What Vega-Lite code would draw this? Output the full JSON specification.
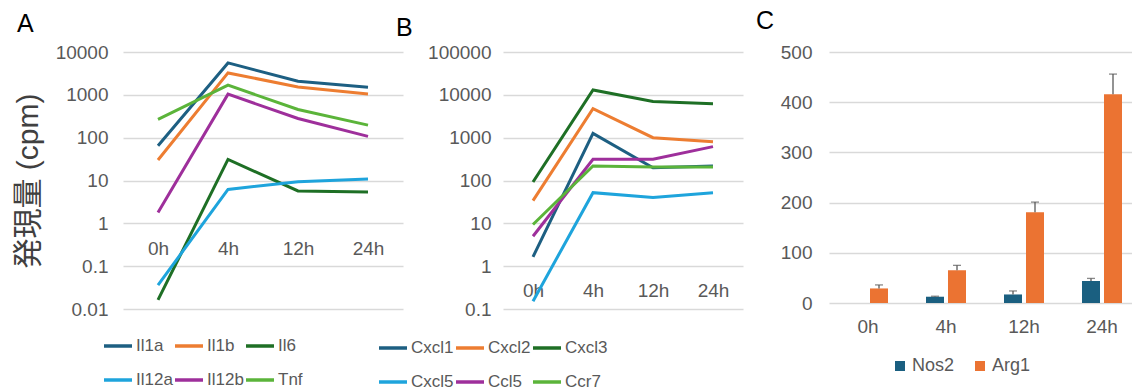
{
  "$schema": "https://vega.github.io/schema/vega-lite/v6.json",
  "autosize": {"type": "pad"},
  "padding": {"left": 12, "top": 9, "right": 0, "bottom": 0},
  "background": "white",
  "config": {
    "view": {"stroke": null},
    "font": "Liberation Sans",
    "axis": {
      "domain": false, "ticks": false, "labelColor": "#595959", "labelFont": "Liberation Sans",
      "labelFontSize": 19, "gridColor": "#d9d9d9", "gridWidth": 1.5
    },
    "legend": {"labelFont": "Liberation Sans", "labelFontSize": 17, "labelColor": "#595959"},
    "title": {"font": "Liberation Sans", "fontSize": 25, "fontWeight": "normal", "color": "#000000", "anchor": "start", "frame": "group"}
  },
  "resolve": {"scale": {"color": "independent", "y": "independent", "x": "independent"}, "legend": {"color": "independent"}},
  "bounds": "flush",
  "spacing": 86,
  "hconcat": [
    {
      "width": 294, "height": 257,
      "title": {"text": "A", "dx": -106, "offset": 6},
      "data": {"values": [
        {"gene": "Il1a", "time": "0h", "value": 65}, {"gene": "Il1a", "time": "4h", "value": 5560}, {"gene": "Il1a", "time": "12h", "value": 2080}, {"gene": "Il1a", "time": "24h", "value": 1500},
        {"gene": "Il1b", "time": "0h", "value": 30}, {"gene": "Il1b", "time": "4h", "value": 3250}, {"gene": "Il1b", "time": "12h", "value": 1530}, {"gene": "Il1b", "time": "24h", "value": 1040},
        {"gene": "Il6", "time": "0h", "value": 0.0163}, {"gene": "Il6", "time": "4h", "value": 31}, {"gene": "Il6", "time": "12h", "value": 5.7}, {"gene": "Il6", "time": "24h", "value": 5.4},
        {"gene": "Il12a", "time": "0h", "value": 0.036}, {"gene": "Il12a", "time": "4h", "value": 6.2}, {"gene": "Il12a", "time": "12h", "value": 9.4}, {"gene": "Il12a", "time": "24h", "value": 10.8},
        {"gene": "Il12b", "time": "0h", "value": 1.8}, {"gene": "Il12b", "time": "4h", "value": 1035}, {"gene": "Il12b", "time": "12h", "value": 280}, {"gene": "Il12b", "time": "24h", "value": 107},
        {"gene": "Tnf", "time": "0h", "value": 266}, {"gene": "Tnf", "time": "4h", "value": 1680}, {"gene": "Tnf", "time": "12h", "value": 454}, {"gene": "Tnf", "time": "24h", "value": 196}
      ]},
      "mark": {"type": "line", "strokeWidth": 3},
      "encoding": {
        "x": {"field": "time", "type": "ordinal", "sort": ["0h", "4h", "12h", "24h"], "scale": {"type": "point", "padding": 0.5, "range": [0, 280]},
              "axis": {"title": null, "labelAngle": 0, "grid": false, "offset": -86, "labelPadding": 16}},
        "y": {"field": "value", "type": "quantitative", "scale": {"type": "log", "domain": [0.01, 10000], "nice": false},
              "axis": {"title": "発現量 (cpm)", "titleFont": "Liberation Sans, Noto Sans CJK JP", "titleFontSize": 30, "titleFontWeight": "normal", "titleColor": "#404040",
                       "titleX": -95, "titleBaseline": "middle", "values": [0.01, 0.1, 1, 10, 100, 1000, 10000], "format": "~g", "labelPadding": 15}},
        "color": {"field": "gene", "type": "nominal", "sort": ["Il1a", "Il1b", "Il6", "Il12a", "Il12b", "Tnf"],
                  "scale": {"domain": ["Il1a", "Il1b", "Il6", "Il12a", "Il12b", "Tnf"], "range": ["#1d5f82", "#ed7d31", "#1e6f25", "#1ea4dc", "#9e2f9b", "#5bb43a"]},
                  "legend": {"title": null, "orient": "none", "direction": "horizontal", "legendX": -21, "legendY": 278, "columns": 3, "symbolType": "stroke", "symbolSize": 784, "symbolStrokeWidth": 3.5, "labelOffset": 2, "columnPadding": -8, "rowPadding": 10}}
      }
    },
    {
      "width": 240, "height": 257,
      "title": {"text": "B", "dx": -107, "offset": 2},
      "data": {"values": [
        {"gene": "Cxcl1", "time": "0h", "value": 1.65}, {"gene": "Cxcl1", "time": "4h", "value": 1260}, {"gene": "Cxcl1", "time": "12h", "value": 198}, {"gene": "Cxcl1", "time": "24h", "value": 218},
        {"gene": "Cxcl2", "time": "0h", "value": 34}, {"gene": "Cxcl2", "time": "4h", "value": 4780}, {"gene": "Cxcl2", "time": "12h", "value": 1000}, {"gene": "Cxcl2", "time": "24h", "value": 807},
        {"gene": "Cxcl3", "time": "0h", "value": 92}, {"gene": "Cxcl3", "time": "4h", "value": 13000}, {"gene": "Cxcl3", "time": "12h", "value": 6960}, {"gene": "Cxcl3", "time": "24h", "value": 6160},
        {"gene": "Cxcl5", "time": "0h", "value": 0.152}, {"gene": "Cxcl5", "time": "4h", "value": 52}, {"gene": "Cxcl5", "time": "12h", "value": 40}, {"gene": "Cxcl5", "time": "24h", "value": 52},
        {"gene": "Ccl5", "time": "0h", "value": 5.0}, {"gene": "Ccl5", "time": "4h", "value": 312}, {"gene": "Ccl5", "time": "12h", "value": 312}, {"gene": "Ccl5", "time": "24h", "value": 617},
        {"gene": "Ccr7", "time": "0h", "value": 9.4}, {"gene": "Ccr7", "time": "4h", "value": 218}, {"gene": "Ccr7", "time": "12h", "value": 206}, {"gene": "Ccr7", "time": "24h", "value": 206}
      ]},
      "mark": {"type": "line", "strokeWidth": 3},
      "encoding": {
        "x": {"field": "time", "type": "ordinal", "sort": ["0h", "4h", "12h", "24h"], "scale": {"type": "point", "padding": 0.5},
              "axis": {"title": null, "labelAngle": 0, "grid": false, "offset": -42, "labelPadding": 14}},
        "y": {"field": "value", "type": "quantitative", "scale": {"type": "log", "domain": [0.1, 100000], "nice": false},
              "axis": {"title": null, "values": [0.1, 1, 10, 100, 1000, 10000, 100000], "format": "~g", "labelPadding": 12}},
        "color": {"field": "gene", "type": "nominal", "sort": ["Cxcl1", "Cxcl2", "Cxcl3", "Cxcl5", "Ccl5", "Ccr7"],
                  "scale": {"domain": ["Cxcl1", "Cxcl2", "Cxcl3", "Cxcl5", "Ccl5", "Ccr7"], "range": ["#1d5f82", "#ed7d31", "#1e6f25", "#1ea4dc", "#9e2f9b", "#5bb43a"]},
                  "legend": {"title": null, "orient": "none", "direction": "horizontal", "legendX": -126, "legendY": 280, "columns": 3, "symbolType": "stroke", "symbolSize": 784, "symbolStrokeWidth": 3.5, "labelOffset": 2, "columnPadding": -7, "rowPadding": 10}}
      }
    },
    {
      "width": 312, "height": 251,
      "title": {"text": "C", "dx": -73, "offset": 9},
      "data": {"values": [
        {"gene": "Nos2", "time": "0h", "value": 0, "err": 0},
        {"gene": "Nos2", "time": "4h", "value": 12.5, "err": 1},
        {"gene": "Nos2", "time": "12h", "value": 17, "err": 7},
        {"gene": "Nos2", "time": "24h", "value": 44, "err": 5},
        {"gene": "Arg1", "time": "0h", "value": 29, "err": 7},
        {"gene": "Arg1", "time": "4h", "value": 65, "err": 10},
        {"gene": "Arg1", "time": "12h", "value": 181, "err": 20},
        {"gene": "Arg1", "time": "24h", "value": 416, "err": 40}
      ]},
      "transform": [{"calculate": "datum.value + datum.err", "as": "top"}],
      "encoding": {
        "x": {"field": "time", "type": "ordinal", "sort": ["0h", "4h", "12h", "24h"], "scale": {"paddingInner": 0, "paddingOuter": 0},
              "axis": {"title": null, "labelAngle": 0, "grid": false, "labelPadding": 14}},
        "xOffset": {"field": "gene", "type": "nominal", "sort": ["Nos2", "Arg1"], "scale": {"paddingInner": 0.1818, "paddingOuter": 0.8636}}
      },
      "layer": [
        {
          "mark": {"type": "bar"},
          "encoding": {
            "y": {"field": "value", "type": "quantitative", "scale": {"domain": [0, 500], "nice": false},
                  "axis": {"title": null, "values": [0, 100, 200, 300, 400, 500], "labelPadding": 17}},
            "color": {"field": "gene", "type": "nominal", "sort": ["Nos2", "Arg1"],
                      "scale": {"domain": ["Nos2", "Arg1"], "range": ["#1a5f80", "#eb7332"]},
                      "legend": {"title": null, "orient": "none", "direction": "horizontal", "legendX": 62, "legendY": 305, "labelFontSize": 18, "symbolType": "square", "symbolSize": 100, "symbolStrokeWidth": 0, "symbolOpacity": 1, "labelOffset": 3, "columnPadding": 16}}
          }
        },
        {
          "transform": [{"filter": "datum.err > 0"}],
          "mark": {"type": "rule", "color": "#595959", "strokeWidth": 1.3},
          "encoding": {
            "y": {"field": "value", "type": "quantitative"},
            "y2": {"field": "top"}
          }
        },
        {
          "transform": [{"filter": "datum.err > 0"}],
          "mark": {"type": "tick", "color": "#595959", "thickness": 1.3, "size": 8, "orient": "horizontal"},
          "encoding": {
            "y": {"field": "top", "type": "quantitative"}
          }
        }
      ]
    }
  ]
}
